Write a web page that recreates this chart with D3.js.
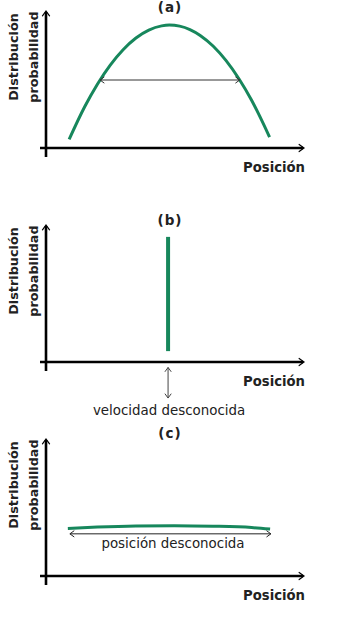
<!DOCTYPE html>
<html><head><meta charset="utf-8">
<script src="https://cdn.jsdelivr.net/npm/d3@7"></script>
<style>body{margin:0;background:#fff}svg{display:block}</style>
</head><body>
<script>
const panelTitles = ["(a)", "(b)", "(c)"];
const xTitle = "Posición";
const yTitleLines = ["Distribución", "probabilidad"];
// curve points [position, probability]
const curveA = [[0.9,0.63],[1.5,3.01],[2.0,4.69],[2.5,6.10],[3.0,7.23],[3.5,8.09],[4.0,8.67],[4.5,8.98],[4.8,9.04],[5.2,8.96],[5.6,8.71],[6.0,8.28],[6.5,7.50],[7.0,6.44],[7.5,5.11],[8.0,3.51],[8.7,0.80]];
const spikeB = [[4.75,0.8],[4.75,9.2]];
const curveC = [[0.85,3.5],[2.0,3.6],[3.5,3.68],[5.0,3.7],[6.5,3.66],[8.0,3.56],[8.72,3.45]];
const arrowA = {x0:2.1, x1:7.54, y:5.0};
const arrowB = {x:4.75, y0:-0.4, y1:-2.65};
const arrowC = {x0:0.93, x1:8.75, y:3.1};
const noteB = "velocidad desconocida";
const noteC = "posición desconocida";

const W = 356, H = 624, green = "#17875c";
const svg = d3.select("body").append("svg").attr("width", W).attr("height", H);
const axisYs = [148, 362, 576];
const x = d3.scaleLinear().domain([0,10]).range([46,303]);

function openHead(g, px, py, dir, size, width, color){
  const a = Math.PI/5;
  const p1 = [px - size*Math.cos(dir - a), py - size*Math.sin(dir - a)];
  const p2 = [px - size*Math.cos(dir + a), py - size*Math.sin(dir + a)];
  g.append("path").attr("d", `M${p1}L${px},${py}L${p2}`).attr("fill","none")
   .attr("stroke", color).attr("stroke-width", width).attr("stroke-linecap","round");
}

const curves = [curveA, spikeB, curveC];
const titleY = [7, 220, 433];
axisYs.forEach((ay, i) => {
  const g = svg.append("g");
  const y = d3.scaleLinear().domain([0,10]).range([ay, ay-136]);
  g.append("line").attr("x1", 46).attr("x2", 46).attr("y1", ay+9).attr("y2", ay-136)
    .attr("stroke","#000").attr("stroke-width",2.6);
  g.append("line").attr("x1", 40).attr("x2", 303).attr("y1", ay).attr("y2", ay)
    .attr("stroke","#000").attr("stroke-width",2.6);
  openHead(g, 46, ay-137, -Math.PI/2, 6, 1.2, "#000");
  openHead(g, 304, ay, 0, 6, 1.2, "#000");
  g.append("text").attr("x", 170).attr("y", titleY[i]).attr("dy","0.35em")
    .attr("text-anchor","middle").attr("font-family","DejaVu Sans").attr("font-weight","bold")
    .attr("font-size",13.5).attr("letter-spacing",1).attr("fill","#222").text(panelTitles[i]);
  g.append("text").attr("x", 305).attr("y", ay+19).attr("dy","0.35em")
    .attr("text-anchor","end").attr("font-family","DejaVu Sans").attr("font-weight","bold")
    .attr("font-size",13.2).attr("fill","#222").text(xTitle);
  yTitleLines.forEach((t, k) => {
    g.append("text").attr("transform", `translate(${14 + k*20},${ay-91}) rotate(-90)`)
      .attr("dy","0.35em").attr("text-anchor","middle").attr("font-family","DejaVu Sans")
      .attr("font-weight","bold").attr("font-size",12.8).attr("fill","#222").text(t);
  });
  const line = d3.line().x(d => x(d[0])).y(d => y(d[1])).curve(d3.curveMonotoneX);
  g.append("path").datum(curves[i]).attr("d", i===1 ? d3.line().x(d=>x(d[0])).y(d=>y(d[1])) : line)
    .attr("fill","none").attr("stroke", green).attr("stroke-width", i===1 ? 4 : 3);
  if (i === 0) {
    g.append("line").attr("x1", x(arrowA.x0)).attr("x2", x(arrowA.x1)).attr("y1", y(arrowA.y)).attr("y2", y(arrowA.y))
      .attr("stroke","#333").attr("stroke-width",1);
    openHead(g, x(arrowA.x0), y(arrowA.y), Math.PI, 5, 1, "#333");
    openHead(g, x(arrowA.x1), y(arrowA.y), 0, 5, 1, "#333");
  } else if (i === 1) {
    g.append("line").attr("x1", x(arrowB.x)).attr("x2", x(arrowB.x)).attr("y1", y(arrowB.y0)).attr("y2", y(arrowB.y1))
      .attr("stroke","#444").attr("stroke-width",1);
    openHead(g, x(arrowB.x), y(arrowB.y0), -Math.PI/2, 5, 1, "#444");
    openHead(g, x(arrowB.x), y(arrowB.y1), Math.PI/2, 5, 1, "#444");
    g.append("text").attr("x", x(arrowB.x)+1).attr("y", ay+48).attr("dy","0.35em")
      .attr("text-anchor","middle").attr("font-family","DejaVu Sans").attr("font-size",13.4)
      .attr("fill","#222").text(noteB);
  } else {
    g.append("line").attr("x1", x(arrowC.x0)).attr("x2", x(arrowC.x1)).attr("y1", y(arrowC.y)).attr("y2", y(arrowC.y))
      .attr("stroke","#222").attr("stroke-width",1);
    openHead(g, x(arrowC.x0), y(arrowC.y), Math.PI, 5, 1, "#222");
    openHead(g, x(arrowC.x1), y(arrowC.y), 0, 5, 1, "#222");
    g.append("text").attr("x", 173).attr("y", ay-33).attr("dy","0.35em")
      .attr("text-anchor","middle").attr("font-family","DejaVu Sans").attr("font-size",13.4)
      .attr("fill","#222").text(noteC);
  }
});
</script>
</body></html>
